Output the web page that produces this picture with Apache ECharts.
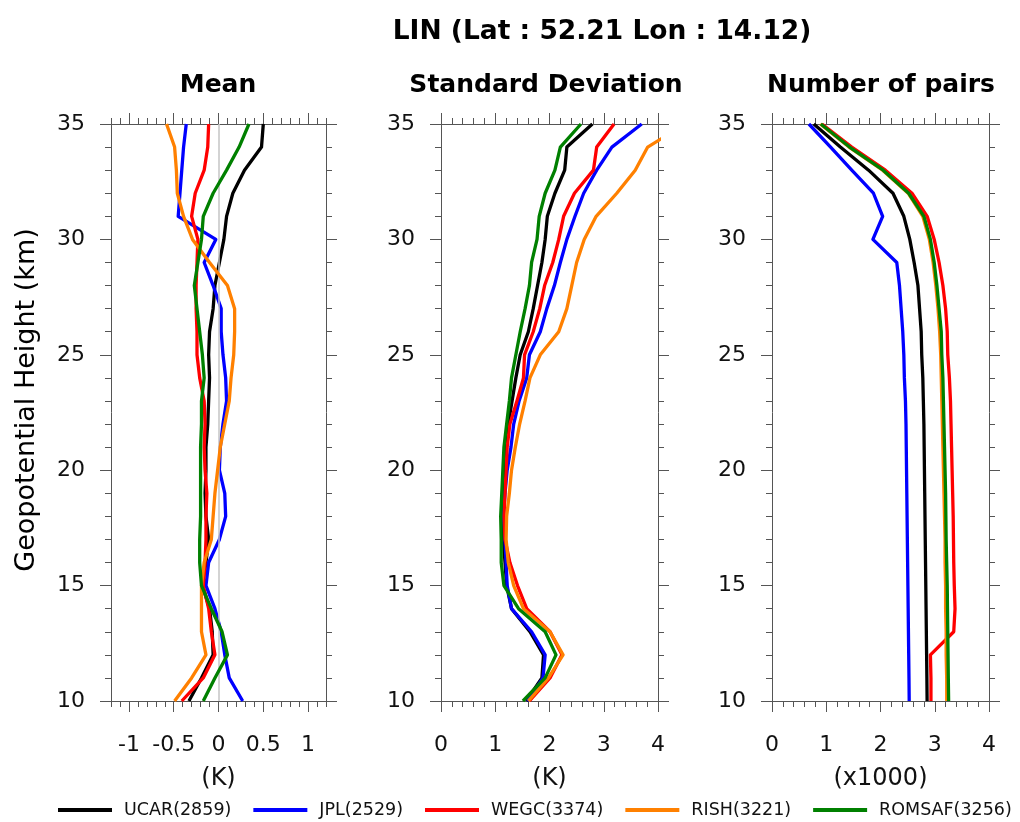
<!DOCTYPE html>
<html>
<head>
<meta charset="utf-8">
<script src="https://cdn.jsdelivr.net/npm/echarts@6/dist/echarts.min.js"></script>
<style>
  html, body { margin: 0; padding: 0; background: #ffffff; }
  #chart { width: 1020px; height: 822px; }
</style>
</head>
<body>
<div id="chart"></div>
<script>
// Geopotential height levels (km), bottom to top
const heights = [10, 11, 12, 13, 14, 15, 16, 17, 18, 19, 20, 21, 22, 23, 24, 25, 26, 27, 28, 29, 30, 31, 32, 33, 34, 35];

const centers = ['UCAR(2859)', 'JPL(2529)', 'WEGC(3374)', 'RISH(3221)', 'ROMSAF(3256)'];
const colors  = ['#000000', '#0000ff', '#ff0000', '#ff8000', '#008000'];

// Mean difference (K)
const meanUCAR   = [-0.33, -0.19, -0.06, -0.07, -0.10, -0.18, -0.14, -0.11, -0.14, -0.15, -0.14, -0.14, -0.12, -0.11, -0.10, -0.11, -0.10, -0.06, -0.04, 0.01, 0.06, 0.09, 0.16, 0.29, 0.48, 0.50];
const meanJPL    = [0.27, 0.12, 0.07, 0.03, -0.04, -0.14, -0.11, 0.01, 0.08, 0.07, 0.01, 0.02, 0.05, 0.09, 0.08, 0.05, 0.03, 0.03, -0.06, -0.16, -0.03, -0.45, -0.43, -0.41, -0.39, -0.36];
const meanWEGC   = [-0.41, -0.17, -0.04, -0.08, -0.11, -0.17, -0.15, -0.14, -0.14, -0.13, -0.15, -0.16, -0.15, -0.16, -0.21, -0.24, -0.24, -0.25, -0.25, -0.24, -0.23, -0.30, -0.26, -0.16, -0.12, -0.11];
const meanRISH   = [-0.49, -0.30, -0.14, -0.19, -0.19, -0.19, -0.16, -0.08, -0.06, -0.04, -0.01, 0.02, 0.07, 0.12, 0.14, 0.17, 0.18, 0.18, 0.10, -0.10, -0.29, -0.39, -0.46, -0.47, -0.49, -0.58];
const meanROMSAF = [-0.17, -0.04, 0.10, 0.04, -0.08, -0.19, -0.21, -0.21, -0.20, -0.20, -0.20, -0.20, -0.19, -0.19, -0.16, -0.18, -0.21, -0.24, -0.27, -0.23, -0.19, -0.17, -0.06, 0.09, 0.23, 0.34];

// Standard deviation (K)
const sdUCAR   = [1.57, 1.86, 1.89, 1.64, 1.30, 1.21, 1.18, 1.15, 1.14, 1.16, 1.18, 1.20, 1.24, 1.31, 1.38, 1.46, 1.61, 1.70, 1.78, 1.86, 1.92, 1.96, 2.10, 2.28, 2.32, 2.79];
const sdJPL    = [1.59, 1.88, 1.92, 1.67, 1.30, 1.22, 1.20, 1.18, 1.15, 1.18, 1.22, 1.29, 1.34, 1.44, 1.58, 1.63, 1.83, 1.95, 2.09, 2.20, 2.32, 2.47, 2.63, 2.87, 3.15, 3.70];
const sdWEGC   = [1.63, 2.01, 2.23, 2.01, 1.58, 1.41, 1.27, 1.18, 1.16, 1.18, 1.20, 1.22, 1.27, 1.40, 1.52, 1.54, 1.70, 1.82, 1.91, 2.06, 2.17, 2.26, 2.46, 2.81, 2.87, 3.19];
const sdRISH   = [1.61, 1.98, 2.25, 2.01, 1.52, 1.34, 1.24, 1.20, 1.21, 1.26, 1.30, 1.37, 1.45, 1.55, 1.64, 1.83, 2.17, 2.32, 2.41, 2.50, 2.64, 2.86, 3.24, 3.58, 3.81, 4.50];
const sdROMSAF = [1.51, 1.92, 2.12, 1.92, 1.43, 1.16, 1.11, 1.11, 1.10, 1.12, 1.14, 1.16, 1.21, 1.26, 1.30, 1.38, 1.46, 1.55, 1.63, 1.67, 1.77, 1.81, 1.92, 2.10, 2.20, 2.58];

// Number of collocated pairs (x1000)
const nUCAR   = [2.859, 2.855, 2.850, 2.845, 2.840, 2.835, 2.830, 2.825, 2.820, 2.815, 2.810, 2.805, 2.800, 2.790, 2.780, 2.760, 2.750, 2.720, 2.690, 2.620, 2.540, 2.430, 2.230, 1.780, 1.260, 0.770];
const nJPL    = [2.529, 2.525, 2.520, 2.515, 2.510, 2.505, 2.500, 2.495, 2.490, 2.485, 2.480, 2.475, 2.470, 2.460, 2.440, 2.430, 2.410, 2.380, 2.350, 2.300, 1.860, 2.040, 1.870, 1.470, 1.080, 0.680];
const nWEGC   = [2.930, 2.930, 2.920, 3.350, 3.374, 3.360, 3.350, 3.345, 3.340, 3.330, 3.320, 3.310, 3.300, 3.290, 3.270, 3.240, 3.230, 3.200, 3.150, 3.080, 2.990, 2.860, 2.580, 2.090, 1.470, 0.920];
const nRISH   = [3.221, 3.220, 3.210, 3.210, 3.200, 3.200, 3.190, 3.190, 3.180, 3.170, 3.160, 3.150, 3.140, 3.130, 3.120, 3.110, 3.090, 3.060, 3.020, 2.970, 2.900, 2.780, 2.510, 2.040, 1.420, 0.890];
const nROMSAF = [3.256, 3.250, 3.245, 3.240, 3.235, 3.230, 3.220, 3.210, 3.205, 3.200, 3.190, 3.180, 3.170, 3.160, 3.150, 3.130, 3.120, 3.080, 3.040, 2.990, 2.920, 2.800, 2.520, 2.050, 1.430, 0.900];

// Axis tick labels
const meanTicks = [-1, -0.5, 0, 0.5, 1];
const countTicks = [0, 1, 2, 3, 4];

const panels = [
  { sub: 'Mean', unit: '(K)', min: -1.2, max: 1.2, minorStep: 0.1, ticks: meanTicks,
    series: [meanUCAR, meanJPL, meanWEGC, meanRISH, meanROMSAF] },
  { sub: 'Standard Deviation', unit: '(K)', min: 0, max: 4, minorStep: 0.2, ticks: countTicks,
    series: [sdUCAR, sdJPL, sdWEGC, sdRISH, sdROMSAF] },
  { sub: 'Number of pairs', unit: '(x1000)', min: 0, max: 4, minorStep: 0.2, ticks: countTicks,
    series: [nUCAR, nJPL, nWEGC, nRISH, nROMSAF] }
];

const FONT = '"DejaVu Sans", "Liberation Sans", sans-serif';
const AXIS_COLOR = '#555555';
const boxes = [
  { left: 111, width: 215 },
  { left: 441, width: 217 },
  { left: 772, width: 217 }
];
const TOP = 124, HEIGHT = 577;

const grid = boxes.map(b => ({ left: b.left, top: TOP, width: b.width, height: HEIGHT, containLabel: false }));
const xAxis = [];
const yAxis = [];
const series = [];

panels.forEach((p, g) => {
  ['bottom', 'top'].forEach(pos => {
    // major ticks (and labels on the bottom edge)
    xAxis.push({
      type: 'value', gridIndex: g, position: pos, min: p.min, max: p.max,
      axisLine: { show: true, onZero: false, lineStyle: { color: AXIS_COLOR, width: 1 } },
      axisTick: { show: true, inside: false, length: 11, customValues: p.ticks,
                  lineStyle: { color: AXIS_COLOR, width: 1 } },
      axisLabel: { show: pos === 'bottom', customValues: p.ticks, margin: 33,
                   fontFamily: FONT, fontSize: 22, color: '#111',
                   formatter: v => String(v) },
      splitLine: { show: false },
      name: pos === 'bottom' ? p.unit : '', nameLocation: 'middle', nameGap: 66,
      nameTextStyle: { fontFamily: FONT, fontSize: 24, color: '#111' }
    });
    // minor ticks
    xAxis.push({
      type: 'value', gridIndex: g, position: pos, min: p.min, max: p.max,
      interval: p.minorStep,
      axisLine: { show: false, onZero: false },
      axisTick: { show: true, inside: false, length: 6, lineStyle: { color: AXIS_COLOR, width: 1 } },
      axisLabel: { show: false }, splitLine: { show: false }
    });
  });
  ['left', 'right'].forEach(pos => {
    yAxis.push({
      type: 'value', gridIndex: g, position: pos, min: 10, max: 35, interval: 5,
      axisLine: { show: true, onZero: false, lineStyle: { color: AXIS_COLOR, width: 1 } },
      axisTick: { show: true, inside: false, length: 11, lineStyle: { color: AXIS_COLOR, width: 1 } },
      minorTick: { show: true, splitNumber: 5, length: 6, lineStyle: { color: AXIS_COLOR, width: 1 } },
      axisLabel: { show: pos === 'left', margin: 26, fontFamily: FONT, fontSize: 22, color: '#111' },
      splitLine: { show: false }
    });
  });

  const xIndex = g * 4;       // bottom major axis of this panel
  const yIndex = g * 2;       // left axis of this panel

  if (g === 0) {
    // zero reference line
    series.push({
      type: 'line', xAxisIndex: xIndex, yAxisIndex: yIndex, data: [], z: 1, silent: true,
      markLine: {
        silent: true, symbol: ['none', 'none'], label: { show: false },
        lineStyle: { color: '#c4c4c4', width: 1.5, type: 'solid' },
        data: [{ xAxis: 0 }], animation: false
      }
    });
  }

  p.series.forEach((vals, i) => {
    series.push({
      name: centers[i], type: 'line', xAxisIndex: xIndex, yAxisIndex: yIndex,
      data: heights.map((h, k) => [vals[k], h]),
      symbol: 'none', showSymbol: false, clip: true, z: 2 + i,
      lineStyle: { color: colors[i], width: 3.3, join: 'round' },
      itemStyle: { color: colors[i] },
      emphasis: { disabled: true }
    });
  });
});

const textEl = (x, y, text, font, rotation) => ({
  type: 'text', x: x, y: y, rotation: rotation || 0, silent: true,
  style: { text: text, font: font, fill: '#000',
           textAlign: 'center', textVerticalAlign: 'middle', align: 'center', verticalAlign: 'middle' }
});

const option = {
  animation: false,
  backgroundColor: '#ffffff',
  grid: grid,
  xAxis: xAxis,
  yAxis: yAxis,
  series: series,
  legend: {
    data: centers, left: 58, right: 0, top: 801, padding: 0, orient: 'horizontal',
    icon: 'rect', itemWidth: 54, itemHeight: 4, itemGap: 22,
    textStyle: { fontFamily: FONT, fontSize: 17.5, color: '#111', padding: [0, 0, 0, 7] },
    selectedMode: false
  },
  graphic: [
    textEl(602, 32, 'LIN (Lat : 52.21 Lon : 14.12)', 'bold 26.5px ' + FONT),
    textEl(218, 85, 'Mean', 'bold 25px ' + FONT),
    textEl(546, 85, 'Standard Deviation', 'bold 25px ' + FONT),
    textEl(881, 85, 'Number of pairs', 'bold 25px ' + FONT),
    textEl(27, 400, 'Geopotential Height (km)', '27px ' + FONT, Math.PI / 2)
  ]
};

const chart = echarts.init(document.getElementById('chart'), null, { renderer: 'canvas' });
chart.setOption(option);
</script>
</body>
</html>
